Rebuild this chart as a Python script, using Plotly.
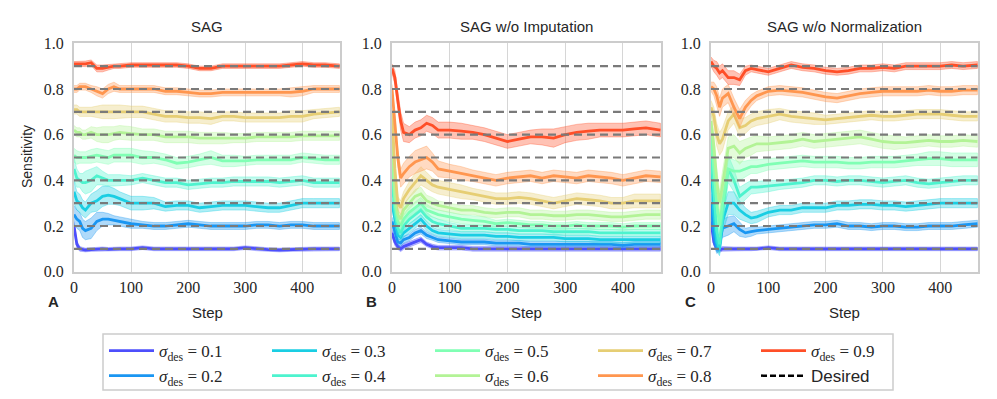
import plotly.graph_objects as go

steps = [0, 5, 10, 15, 20, 30, 40, 50, 60, 70, 80, 100, 120, 140, 160, 180,
         200, 220, 240, 260, 280, 300, 320, 340, 360, 380, 400, 420, 440, 465]
sigmas = [0.1, 0.2, 0.3, 0.4, 0.5, 0.6, 0.7, 0.8, 0.9]
desired = [0.1, 0.2, 0.3, 0.4, 0.5, 0.6, 0.7, 0.8, 0.9]
panel_titles = ["SAG", "SAG w/o Imputation", "SAG w/o Normalization"]
panel_letters = ["A", "B", "C"]

# SAG
sag_mean = [
    [0.20, 0.12, 0.10, 0.097, 0.095, 0.097, 0.10, 0.10, 0.098, 0.10, 0.10, 0.10, 0.105, 0.10, 0.10, 0.10, 0.10, 0.10, 0.10, 0.10, 0.10, 0.105, 0.10, 0.097, 0.095, 0.097, 0.10, 0.10, 0.10, 0.10],
    [0.25, 0.23, 0.22, 0.19, 0.18, 0.19, 0.22, 0.23, 0.23, 0.225, 0.22, 0.21, 0.205, 0.20, 0.20, 0.205, 0.21, 0.205, 0.20, 0.20, 0.20, 0.20, 0.205, 0.205, 0.20, 0.205, 0.205, 0.20, 0.20, 0.20],
    [0.35, 0.31, 0.30, 0.28, 0.27, 0.30, 0.31, 0.33, 0.335, 0.33, 0.32, 0.30, 0.30, 0.30, 0.285, 0.29, 0.29, 0.28, 0.285, 0.29, 0.29, 0.29, 0.285, 0.28, 0.28, 0.29, 0.30, 0.30, 0.30, 0.30],
    [0.45, 0.41, 0.40, 0.39, 0.39, 0.40, 0.42, 0.41, 0.40, 0.40, 0.40, 0.40, 0.41, 0.40, 0.39, 0.39, 0.38, 0.385, 0.39, 0.39, 0.395, 0.395, 0.395, 0.395, 0.39, 0.395, 0.40, 0.39, 0.39, 0.39],
    [0.51, 0.50, 0.50, 0.50, 0.50, 0.505, 0.51, 0.505, 0.50, 0.51, 0.51, 0.51, 0.50, 0.50, 0.49, 0.475, 0.48, 0.49, 0.50, 0.485, 0.485, 0.485, 0.49, 0.49, 0.49, 0.49, 0.50, 0.495, 0.49, 0.49],
    [0.62, 0.61, 0.61, 0.60, 0.60, 0.61, 0.60, 0.60, 0.60, 0.605, 0.61, 0.605, 0.60, 0.60, 0.59, 0.59, 0.59, 0.585, 0.585, 0.585, 0.585, 0.585, 0.59, 0.59, 0.59, 0.59, 0.595, 0.595, 0.595, 0.595],
    [0.71, 0.71, 0.70, 0.70, 0.70, 0.70, 0.70, 0.70, 0.70, 0.70, 0.70, 0.70, 0.70, 0.69, 0.68, 0.68, 0.675, 0.675, 0.67, 0.68, 0.68, 0.675, 0.675, 0.675, 0.675, 0.68, 0.68, 0.69, 0.695, 0.70],
    [0.80, 0.80, 0.81, 0.81, 0.81, 0.80, 0.79, 0.78, 0.80, 0.81, 0.80, 0.80, 0.80, 0.80, 0.79, 0.79, 0.785, 0.78, 0.78, 0.785, 0.785, 0.785, 0.785, 0.785, 0.785, 0.785, 0.79, 0.80, 0.80, 0.80],
    [0.91, 0.91, 0.91, 0.91, 0.91, 0.915, 0.89, 0.89, 0.895, 0.90, 0.90, 0.905, 0.905, 0.905, 0.905, 0.905, 0.90, 0.89, 0.89, 0.90, 0.90, 0.90, 0.90, 0.90, 0.90, 0.905, 0.91, 0.905, 0.905, 0.90],
]
sag_spread = [
    [0.02, 0.015, 0.01, 0.008, 0.008, 0.008, 0.008, 0.008, 0.008, 0.008, 0.008, 0.008, 0.008, 0.008, 0.008, 0.008, 0.008, 0.008, 0.008, 0.008, 0.008, 0.008, 0.008, 0.008, 0.008, 0.008, 0.008, 0.008, 0.008, 0.008],
    [0.04, 0.04, 0.04, 0.04, 0.04, 0.045, 0.04, 0.03, 0.025, 0.02, 0.02, 0.02, 0.015, 0.015, 0.015, 0.015, 0.015, 0.015, 0.015, 0.015, 0.015, 0.015, 0.015, 0.015, 0.015, 0.015, 0.015, 0.015, 0.015, 0.015],
    [0.05, 0.04, 0.04, 0.035, 0.035, 0.04, 0.045, 0.045, 0.04, 0.035, 0.03, 0.03, 0.03, 0.025, 0.02, 0.02, 0.02, 0.02, 0.02, 0.02, 0.02, 0.02, 0.02, 0.02, 0.02, 0.02, 0.02, 0.02, 0.02, 0.02],
    [0.05, 0.04, 0.03, 0.04, 0.05, 0.05, 0.04, 0.03, 0.025, 0.025, 0.025, 0.02, 0.02, 0.02, 0.02, 0.02, 0.02, 0.02, 0.02, 0.02, 0.02, 0.02, 0.02, 0.02, 0.02, 0.02, 0.02, 0.02, 0.02, 0.02],
    [0.03, 0.03, 0.025, 0.025, 0.025, 0.03, 0.03, 0.03, 0.03, 0.03, 0.03, 0.03, 0.03, 0.025, 0.025, 0.025, 0.025, 0.025, 0.03, 0.025, 0.025, 0.02, 0.02, 0.02, 0.02, 0.02, 0.02, 0.02, 0.02, 0.02],
    [0.02, 0.02, 0.02, 0.02, 0.02, 0.025, 0.03, 0.035, 0.035, 0.03, 0.03, 0.03, 0.025, 0.025, 0.025, 0.025, 0.025, 0.025, 0.025, 0.025, 0.02, 0.02, 0.02, 0.02, 0.02, 0.02, 0.02, 0.02, 0.02, 0.02],
    [0.02, 0.02, 0.02, 0.02, 0.02, 0.02, 0.025, 0.03, 0.03, 0.03, 0.03, 0.025, 0.025, 0.025, 0.025, 0.025, 0.025, 0.025, 0.025, 0.02, 0.02, 0.02, 0.02, 0.02, 0.02, 0.025, 0.025, 0.02, 0.02, 0.02],
    [0.015, 0.015, 0.015, 0.015, 0.015, 0.015, 0.02, 0.02, 0.02, 0.02, 0.015, 0.015, 0.015, 0.015, 0.015, 0.015, 0.015, 0.015, 0.015, 0.015, 0.015, 0.015, 0.015, 0.015, 0.015, 0.02, 0.02, 0.015, 0.015, 0.015],
    [0.01, 0.01, 0.01, 0.012, 0.012, 0.012, 0.015, 0.015, 0.012, 0.01, 0.01, 0.01, 0.01, 0.01, 0.01, 0.01, 0.01, 0.01, 0.01, 0.01, 0.01, 0.01, 0.01, 0.01, 0.01, 0.01, 0.01, 0.01, 0.01, 0.01],
]

# SAG w/o Imputation
noimp_mean = [
    [0.17, 0.13, 0.11, 0.10, 0.11, 0.12, 0.13, 0.14, 0.12, 0.11, 0.105, 0.105, 0.105, 0.10, 0.10, 0.10, 0.10, 0.10, 0.10, 0.10, 0.10, 0.10, 0.10, 0.10, 0.10, 0.10, 0.10, 0.10, 0.10, 0.10],
    [0.22, 0.17, 0.13, 0.125, 0.14, 0.15, 0.17, 0.18, 0.16, 0.15, 0.14, 0.135, 0.13, 0.13, 0.13, 0.125, 0.125, 0.125, 0.12, 0.12, 0.12, 0.12, 0.12, 0.12, 0.12, 0.12, 0.115, 0.12, 0.12, 0.12],
    [0.30, 0.22, 0.16, 0.15, 0.17, 0.19, 0.21, 0.23, 0.20, 0.18, 0.17, 0.165, 0.16, 0.16, 0.16, 0.155, 0.155, 0.15, 0.15, 0.15, 0.15, 0.145, 0.145, 0.145, 0.14, 0.14, 0.14, 0.14, 0.14, 0.14],
    [0.40, 0.26, 0.19, 0.17, 0.20, 0.23, 0.25, 0.27, 0.24, 0.22, 0.21, 0.20, 0.19, 0.19, 0.19, 0.185, 0.185, 0.18, 0.18, 0.18, 0.175, 0.175, 0.175, 0.175, 0.17, 0.17, 0.17, 0.17, 0.17, 0.17],
    [0.50, 0.30, 0.22, 0.20, 0.23, 0.26, 0.28, 0.30, 0.27, 0.26, 0.25, 0.24, 0.23, 0.225, 0.22, 0.21, 0.215, 0.21, 0.205, 0.205, 0.20, 0.20, 0.205, 0.20, 0.20, 0.20, 0.195, 0.20, 0.20, 0.20],
    [0.60, 0.35, 0.25, 0.23, 0.27, 0.30, 0.33, 0.34, 0.31, 0.30, 0.29, 0.28, 0.27, 0.27, 0.26, 0.255, 0.26, 0.26, 0.25, 0.25, 0.245, 0.245, 0.25, 0.25, 0.245, 0.24, 0.24, 0.245, 0.25, 0.25],
    [0.70, 0.45, 0.30, 0.28, 0.32, 0.36, 0.39, 0.42, 0.40, 0.38, 0.37, 0.36, 0.35, 0.34, 0.33, 0.32, 0.32, 0.325, 0.32, 0.31, 0.30, 0.31, 0.32, 0.315, 0.31, 0.30, 0.30, 0.31, 0.31, 0.31],
    [0.80, 0.65, 0.50, 0.41, 0.43, 0.46, 0.48, 0.49, 0.50, 0.48, 0.45, 0.44, 0.43, 0.42, 0.41, 0.40, 0.41, 0.415, 0.42, 0.41, 0.42, 0.415, 0.41, 0.42, 0.415, 0.41, 0.40, 0.41, 0.42, 0.415],
    [0.89, 0.85, 0.75, 0.66, 0.61, 0.60, 0.62, 0.63, 0.65, 0.64, 0.62, 0.62, 0.615, 0.61, 0.60, 0.585, 0.57, 0.58, 0.59, 0.59, 0.585, 0.60, 0.61, 0.615, 0.62, 0.62, 0.62, 0.625, 0.63, 0.62],
]
noimp_spread = [
    [0.015, 0.015, 0.012, 0.012, 0.012, 0.012, 0.012, 0.012, 0.01, 0.01, 0.01, 0.01, 0.01, 0.01, 0.01, 0.01, 0.01, 0.01, 0.01, 0.01, 0.01, 0.01, 0.01, 0.01, 0.01, 0.01, 0.01, 0.01, 0.01, 0.01],
    [0.02, 0.02, 0.015, 0.015, 0.015, 0.015, 0.015, 0.015, 0.015, 0.012, 0.012, 0.012, 0.012, 0.012, 0.012, 0.012, 0.012, 0.012, 0.012, 0.012, 0.012, 0.012, 0.012, 0.012, 0.012, 0.012, 0.012, 0.012, 0.012, 0.012],
    [0.02, 0.02, 0.015, 0.015, 0.02, 0.02, 0.02, 0.02, 0.02, 0.015, 0.015, 0.015, 0.015, 0.015, 0.015, 0.015, 0.015, 0.015, 0.015, 0.015, 0.015, 0.015, 0.015, 0.015, 0.015, 0.015, 0.015, 0.015, 0.015, 0.015],
    [0.02, 0.02, 0.02, 0.02, 0.02, 0.02, 0.025, 0.025, 0.02, 0.02, 0.02, 0.015, 0.015, 0.015, 0.015, 0.015, 0.015, 0.015, 0.015, 0.015, 0.015, 0.015, 0.015, 0.015, 0.015, 0.015, 0.015, 0.015, 0.015, 0.015],
    [0.02, 0.02, 0.02, 0.02, 0.02, 0.025, 0.025, 0.025, 0.025, 0.02, 0.02, 0.02, 0.02, 0.02, 0.02, 0.015, 0.015, 0.015, 0.015, 0.015, 0.015, 0.015, 0.015, 0.015, 0.015, 0.015, 0.015, 0.015, 0.015, 0.015],
    [0.02, 0.02, 0.02, 0.02, 0.025, 0.025, 0.03, 0.03, 0.025, 0.025, 0.02, 0.02, 0.02, 0.02, 0.02, 0.02, 0.02, 0.02, 0.02, 0.02, 0.02, 0.02, 0.02, 0.02, 0.02, 0.02, 0.02, 0.02, 0.02, 0.02],
    [0.02, 0.03, 0.03, 0.03, 0.03, 0.035, 0.04, 0.04, 0.035, 0.03, 0.03, 0.03, 0.03, 0.025, 0.025, 0.025, 0.025, 0.025, 0.025, 0.025, 0.025, 0.025, 0.025, 0.025, 0.025, 0.025, 0.025, 0.03, 0.03, 0.03],
    [0.02, 0.04, 0.04, 0.04, 0.045, 0.045, 0.05, 0.05, 0.05, 0.04, 0.035, 0.03, 0.03, 0.025, 0.025, 0.025, 0.025, 0.025, 0.025, 0.025, 0.025, 0.025, 0.025, 0.025, 0.025, 0.025, 0.025, 0.025, 0.025, 0.025],
    [0.02, 0.03, 0.04, 0.04, 0.04, 0.035, 0.035, 0.035, 0.035, 0.035, 0.035, 0.035, 0.035, 0.03, 0.03, 0.03, 0.03, 0.03, 0.03, 0.035, 0.04, 0.035, 0.035, 0.035, 0.03, 0.03, 0.03, 0.03, 0.03, 0.03],
]

# SAG w/o Normalization
nonorm_mean = [
    [0.22, 0.13, 0.10, 0.095, 0.10, 0.10, 0.10, 0.10, 0.10, 0.10, 0.10, 0.105, 0.10, 0.10, 0.10, 0.10, 0.10, 0.10, 0.10, 0.10, 0.10, 0.10, 0.10, 0.10, 0.10, 0.10, 0.10, 0.10, 0.10, 0.10],
    [0.30, 0.16, 0.11, 0.12, 0.19, 0.20, 0.21, 0.185, 0.17, 0.175, 0.18, 0.185, 0.19, 0.195, 0.20, 0.205, 0.205, 0.21, 0.20, 0.20, 0.195, 0.20, 0.20, 0.195, 0.195, 0.20, 0.20, 0.20, 0.205, 0.21],
    [0.48, 0.25, 0.13, 0.10, 0.22, 0.30, 0.30, 0.27, 0.25, 0.235, 0.24, 0.26, 0.27, 0.27, 0.28, 0.28, 0.28, 0.29, 0.29, 0.295, 0.295, 0.29, 0.29, 0.285, 0.29, 0.295, 0.30, 0.30, 0.30, 0.30],
    [0.52, 0.35, 0.18, 0.12, 0.25, 0.45, 0.40, 0.33, 0.35, 0.37, 0.37, 0.375, 0.38, 0.385, 0.39, 0.40, 0.40, 0.395, 0.40, 0.40, 0.395, 0.39, 0.395, 0.40, 0.39, 0.385, 0.39, 0.395, 0.40, 0.40],
    [0.60, 0.45, 0.30, 0.20, 0.30, 0.45, 0.44, 0.44, 0.45, 0.46, 0.46, 0.47, 0.475, 0.48, 0.485, 0.48, 0.48, 0.48, 0.475, 0.475, 0.48, 0.48, 0.48, 0.485, 0.49, 0.495, 0.495, 0.49, 0.49, 0.49],
    [0.66, 0.55, 0.40, 0.30, 0.38, 0.54, 0.55, 0.52, 0.54, 0.55, 0.56, 0.56, 0.565, 0.57, 0.58, 0.57, 0.575, 0.58, 0.585, 0.59, 0.58, 0.57, 0.565, 0.565, 0.57, 0.575, 0.57, 0.57, 0.575, 0.57],
    [0.72, 0.68, 0.60, 0.56, 0.58, 0.66, 0.69, 0.63, 0.64, 0.66, 0.67, 0.68, 0.69, 0.68, 0.675, 0.67, 0.665, 0.67, 0.675, 0.68, 0.685, 0.68, 0.68, 0.685, 0.69, 0.69, 0.69, 0.685, 0.68, 0.68],
    [0.81, 0.80, 0.77, 0.72, 0.76, 0.78, 0.72, 0.67, 0.72, 0.75, 0.77, 0.79, 0.795, 0.79, 0.785, 0.775, 0.765, 0.76, 0.77, 0.78, 0.785, 0.79, 0.79, 0.79, 0.79, 0.795, 0.79, 0.79, 0.795, 0.795],
    [0.92, 0.90, 0.89, 0.87, 0.88, 0.85, 0.85, 0.84, 0.88, 0.89, 0.885, 0.875, 0.89, 0.905, 0.895, 0.89, 0.88, 0.875, 0.88, 0.89, 0.89, 0.895, 0.89, 0.90, 0.90, 0.90, 0.90, 0.905, 0.90, 0.905],
]
nonorm_spread = [
    [0.02, 0.015, 0.012, 0.01, 0.01, 0.008, 0.008, 0.008, 0.008, 0.008, 0.008, 0.008, 0.008, 0.008, 0.008, 0.008, 0.008, 0.008, 0.008, 0.008, 0.008, 0.008, 0.008, 0.008, 0.008, 0.008, 0.008, 0.008, 0.008, 0.008],
    [0.04, 0.04, 0.03, 0.03, 0.04, 0.04, 0.035, 0.03, 0.02, 0.02, 0.015, 0.015, 0.015, 0.015, 0.015, 0.015, 0.015, 0.015, 0.015, 0.015, 0.015, 0.015, 0.015, 0.015, 0.015, 0.015, 0.015, 0.015, 0.015, 0.015],
    [0.05, 0.05, 0.04, 0.03, 0.05, 0.05, 0.05, 0.04, 0.03, 0.025, 0.025, 0.02, 0.02, 0.02, 0.02, 0.02, 0.02, 0.02, 0.02, 0.02, 0.02, 0.02, 0.02, 0.02, 0.02, 0.02, 0.02, 0.02, 0.02, 0.02],
    [0.05, 0.05, 0.05, 0.04, 0.06, 0.06, 0.05, 0.04, 0.035, 0.03, 0.025, 0.025, 0.02, 0.02, 0.02, 0.02, 0.02, 0.02, 0.02, 0.02, 0.02, 0.02, 0.02, 0.02, 0.02, 0.02, 0.02, 0.02, 0.02, 0.02],
    [0.05, 0.05, 0.05, 0.05, 0.06, 0.05, 0.05, 0.04, 0.035, 0.03, 0.03, 0.025, 0.025, 0.025, 0.025, 0.025, 0.025, 0.025, 0.025, 0.025, 0.025, 0.025, 0.025, 0.025, 0.025, 0.03, 0.03, 0.03, 0.03, 0.03],
    [0.04, 0.05, 0.05, 0.05, 0.06, 0.05, 0.05, 0.05, 0.04, 0.04, 0.035, 0.03, 0.03, 0.03, 0.03, 0.03, 0.03, 0.03, 0.03, 0.03, 0.03, 0.03, 0.03, 0.025, 0.025, 0.025, 0.025, 0.025, 0.025, 0.025],
    [0.03, 0.04, 0.05, 0.05, 0.05, 0.04, 0.04, 0.04, 0.035, 0.03, 0.03, 0.03, 0.025, 0.025, 0.025, 0.025, 0.02, 0.02, 0.02, 0.02, 0.02, 0.02, 0.02, 0.02, 0.02, 0.02, 0.02, 0.02, 0.02, 0.02],
    [0.02, 0.03, 0.04, 0.04, 0.04, 0.04, 0.04, 0.04, 0.03, 0.025, 0.02, 0.02, 0.02, 0.02, 0.02, 0.02, 0.02, 0.02, 0.02, 0.02, 0.02, 0.02, 0.02, 0.02, 0.02, 0.02, 0.02, 0.02, 0.02, 0.02],
    [0.02, 0.025, 0.03, 0.03, 0.03, 0.03, 0.03, 0.025, 0.02, 0.015, 0.015, 0.015, 0.015, 0.015, 0.015, 0.015, 0.015, 0.015, 0.015, 0.015, 0.015, 0.015, 0.015, 0.015, 0.015, 0.015, 0.015, 0.015, 0.015, 0.015],
]

# matplotlib "rainbow" colours for the nine targets
colors = ["#4d4ffc", "#1a96f2", "#1acee3", "#4df3ce", "#80ffb4",
          "#b3f396", "#e6ce74", "#ff964f", "#ff4f28"]


def rgba(hexc, a):
    h = hexc.lstrip("#")
    return "rgba(%d,%d,%d,%s)" % (int(h[0:2], 16), int(h[2:4], 16), int(h[4:6], 16), a)


W, H = 997, 399
x_px = [(74, 340), (392, 661), (711, 978)]
y_top, y_bot = 43.3, 271.7

fig = go.Figure()
panels = [(sag_mean, sag_spread), (noimp_mean, noimp_spread), (nonorm_mean, nonorm_spread)]

for p, (means, spreads) in enumerate(panels):
    xa = "x" if p == 0 else "x%d" % (p + 1)
    ya = "y" if p == 0 else "y%d" % (p + 1)
    for i, s in enumerate(sigmas):
        m = means[i]
        sp = spreads[i]
        upper = [a + b for a, b in zip(m, sp)]
        lower = [a - b for a, b in zip(m, sp)]
        fig.add_trace(go.Scatter(
            x=steps + steps[::-1], y=upper + lower[::-1],
            fill="toself", fillcolor=rgba(colors[i], 0.35),
            line=dict(color=rgba(colors[i], 0.45), width=0.8),
            mode="lines", hoverinfo="skip", showlegend=False,
            xaxis=xa, yaxis=ya))
        legend_name = "legend" if i // 2 == 0 else "legend%d" % (i // 2 + 1)
        fig.add_trace(go.Scatter(
            x=steps, y=m, mode="lines",
            line=dict(color=colors[i], width=2.8),
            name="<i>σ</i><sub>des</sub> = %.1f" % s,
            showlegend=(p == 0), legend=legend_name,
            xaxis=xa, yaxis=ya))
    for d in desired:
        fig.add_trace(go.Scatter(
            x=[steps[0], steps[-1]], y=[d, d], mode="lines",
            line=dict(color="#7a7a7a", width=2.2, dash="8px,5px"),
            showlegend=False, hoverinfo="skip", xaxis=xa, yaxis=ya))

# legend-only entry for the desired lines
fig.add_trace(go.Scatter(
    x=[None], y=[None], mode="lines",
    line=dict(color="black", width=2.5, dash="6px,3px"),
    name='<span style="font-family:Liberation Sans">Desired</span>',
    legend="legend5"))

axis_common = dict(showline=True, linecolor="#cccccc", linewidth=2, mirror=True,
                   zeroline=False, ticks="", automargin=False,
                   tickfont=dict(family="Liberation Serif", size=16, color="#262626"))

layout = dict(width=W, height=H, margin=dict(l=0, r=0, t=0, b=0, autoexpand=False),
              paper_bgcolor="white", plot_bgcolor="white", showlegend=True)

for p in range(3):
    sx = "" if p == 0 else str(p + 1)
    layout["xaxis" + sx] = dict(
        domain=[x_px[p][0] / W, x_px[p][1] / W], anchor="y" + sx,
        range=[0, 466], tickvals=[0, 100, 200, 300, 400],
        showgrid=True, gridcolor="#d6d6d6", gridwidth=1, **axis_common)
    layout["yaxis" + sx] = dict(
        domain=[1 - y_bot / H, 1 - y_top / H], anchor="x" + sx,
        range=[0, 1], tickvals=[0, 0.2, 0.4, 0.6, 0.8, 1.0], tickformat=".1f",
        showgrid=False, ticklabelstandoff=5, **axis_common)

# five legend columns, two rows each
col_px = [104, 267, 430, 593, 756]
for k, cx in enumerate(col_px):
    name = "legend" if k == 0 else "legend%d" % (k + 1)
    layout[name] = dict(x=cx / W, y=1 - 333 / H, xanchor="left", yanchor="top",
                        orientation="v", bgcolor="rgba(0,0,0,0)", borderwidth=0,
                        font=dict(family="Liberation Serif", size=17, color="#262626"),
                        tracegroupgap=0, itemwidth=45)

fig.update_layout(**layout)

fig.add_shape(type="rect", xref="paper", yref="paper",
              x0=103 / W, x1=893 / W, y0=1 - 390 / H, y1=1 - 334 / H,
              line=dict(color="#cccccc", width=1.5))

txt = dict(xref="paper", yref="paper", showarrow=False, xanchor="center", yanchor="middle")
for p in range(3):
    cx = (x_px[p][0] + x_px[p][1]) / 2 / W
    fig.add_annotation(text=panel_titles[p], x=cx, y=1 - 26 / H,
                       font=dict(family="Liberation Sans", size=15, color="#262626"), **txt)
    fig.add_annotation(text="Step", x=cx, y=1 - 312 / H,
                       font=dict(family="Liberation Sans", size=15, color="#262626"), **txt)
    fig.add_annotation(text="<b>%s</b>" % panel_letters[p], x=(x_px[p][0] - 21) / W, y=1 - 301 / H,
                       font=dict(family="Liberation Sans", size=15, color="#262626"), **txt)

fig.add_annotation(text="Sensitivity", x=27 / W, y=1 - 157 / H, textangle=-90,
                   font=dict(family="Liberation Sans", size=14, color="#262626"), **txt)

fig.write_html("out.html", post_script="document.body.style.margin='0px';",
               config={"displayModeBar": False})
